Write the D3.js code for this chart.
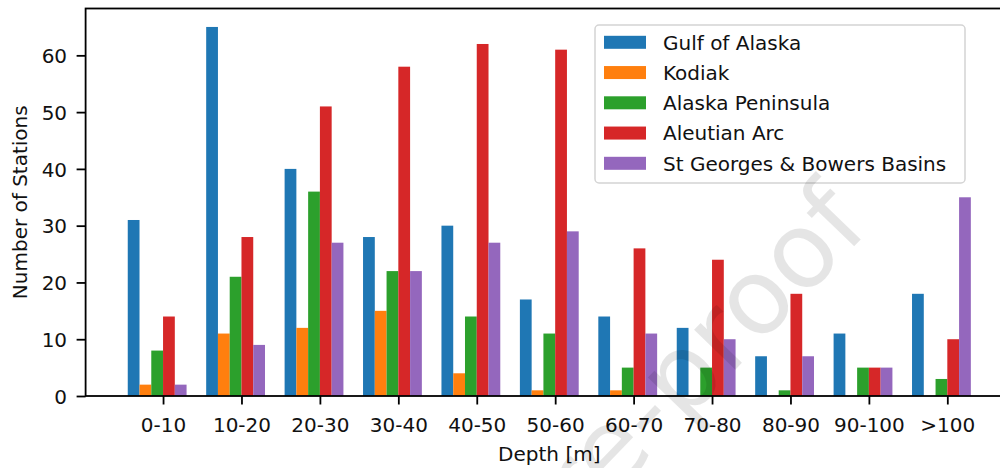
<!DOCTYPE html>
<html>
<head>
<meta charset="utf-8">
<script src="https://cdn.jsdelivr.net/npm/d3@7"></script>
<style>
  html, body { margin: 0; padding: 0; background: #fff; }
  svg { display: block; font-family: "DejaVu Sans", sans-serif; }
</style>
</head>
<body>
<svg id="chart" width="1000" height="468"></svg>
<script>
const categories = ["0-10", "10-20", "20-30", "30-40", "40-50", "50-60", "60-70", "70-80", "80-90", "90-100", ">100"];
const seriesNames = ["Gulf of Alaska", "Kodiak", "Alaska Peninsula", "Aleutian Arc", "St Georges & Bowers Basins"];
const gulfOfAlaska = [31, 65, 40, 28, 30, 17, 14, 12, 7, 11, 18];
const kodiak = [2, 11, 12, 15, 4, 1, 1, 0, 0, 0, 0];
const alaskaPeninsula = [8, 21, 36, 22, 14, 11, 5, 5, 1, 5, 3];
const aleutianArc = [14, 28, 51, 58, 62, 61, 26, 24, 18, 5, 10];
const stGeorgesBowers = [2, 9, 27, 22, 27, 29, 11, 10, 7, 5, 35];
const yTicks = [0, 10, 20, 30, 40, 50, 60];
const colors = ["#1f77b4", "#ff7f0e", "#2ca02c", "#d62728", "#9467bd"];

const series = [gulfOfAlaska, kodiak, alaskaPeninsula, aleutianArc, stGeorgesBowers];
const barW = 0.15;
const offsets = [-3, -2, -1, 0, 1];

const svg = d3.select("#chart");
const mLeft = 85.6, mRight = 1013, mTop = 8.5, mBottom = 396;
const fs = 20;

const x = d3.scaleLinear().domain([0.0125, 11.8375]).range([mLeft, mRight]);
const y = d3.scaleLinear().domain([0, 68.25]).range([mBottom, mTop]);

// bars
series.forEach((vals, si) => {
  svg.append("g").selectAll("rect").data(vals).join("rect")
    .attr("x", (d, i) => x(i + 1 + offsets[si] * barW))
    .attr("width", x(barW) - x(0))
    .attr("y", d => y(d))
    .attr("height", d => y(0) - y(d))
    .attr("fill", colors[si]);
});

// x axis
const xAxis = d3.axisBottom(x)
  .tickValues(categories.map((c, i) => i + 1))
  .tickFormat((d) => categories[d - 1])
  .tickSizeInner(8.5).tickSizeOuter(0).tickPadding(6);
const gx = svg.append("g").attr("transform", `translate(0,${mBottom})`).call(xAxis);
gx.select(".domain").remove();
gx.selectAll(".tick line").attr("stroke", "#000").attr("stroke-width", 1.8);
gx.selectAll(".tick text").attr("font-size", fs).attr("fill", "#111")
  .attr("font-family", "DejaVu Sans").attr("dy", null).attr("y", 35.5);

// y axis
const yAxis = d3.axisLeft(y).tickValues(yTicks).tickFormat(d3.format("d"))
  .tickSizeInner(9).tickSizeOuter(0).tickPadding(6);
const gy = svg.append("g").attr("transform", `translate(${mLeft},0)`).call(yAxis);
gy.select(".domain").remove();
gy.selectAll(".tick line").attr("stroke", "#000").attr("stroke-width", 1.8);
gy.selectAll(".tick text").attr("font-size", fs).attr("fill", "#111")
  .attr("font-family", "DejaVu Sans").attr("dy", null).attr("x", -18.5).attr("y", 7.3);

// spines
svg.append("rect").attr("x", mLeft).attr("y", mTop).attr("width", mRight - mLeft).attr("height", mBottom - mTop)
  .attr("fill", "none").attr("stroke", "#000").attr("stroke-width", 1.8);

// axis labels
svg.append("text").attr("x", (mLeft + mRight) / 2).attr("y", 461).attr("text-anchor", "middle")
  .attr("font-size", fs).attr("fill", "#111").text("Depth [m]");
svg.append("text").attr("transform", `translate(27,${(mTop + mBottom) / 2}) rotate(-90)`)
  .attr("text-anchor", "middle").attr("font-size", fs).attr("fill", "#111").text("Number of Stations");

// legend
const lg = svg.append("g");
lg.append("rect").attr("x", 595).attr("y", 25).attr("width", 370).attr("height", 158)
  .attr("rx", 4).attr("fill", "#fff").attr("fill-opacity", 0.8)
  .attr("stroke", "#d4d4d4").attr("stroke-width", 1.5);
const rowY = d3.scaleLinear().domain([0, 4]).range([42.3, 163.3]);
seriesNames.forEach((name, i) => {
  lg.append("rect").attr("x", 604).attr("y", rowY(i) - 6.5).attr("width", 42).attr("height", 13)
    .attr("fill", colors[i]);
  lg.append("text").attr("x", 663).attr("y", rowY(i) + 7.2).attr("font-size", fs)
    .attr("fill", "#111").text(name);
});

// watermark
svg.append("text").attr("transform", "translate(872,228) rotate(-46)")
  .attr("text-anchor", "end").attr("font-size", 105).attr("fill", "#000").attr("fill-opacity", 0.1)
  .text("Journal Pre-proof");
</script>
</body>
</html>
